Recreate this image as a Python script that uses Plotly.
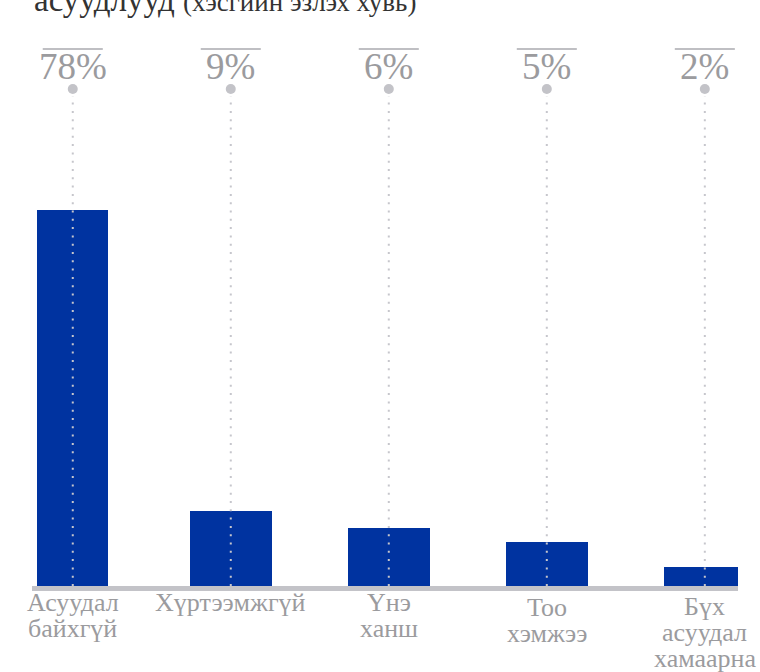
import plotly.graph_objects as go

# ---- data ----
categories = ["Асуудал\nбайхгүй", "Хүртээмжгүй", "Үнэ\nханш", "Тоо\nхэмжээ", "Бүх\nасуудал\nхамаарна"]
bar_values = [78, 15.5, 12.1, 9.2, 4.0]          # bar heights as drawn
share_labels = ["78%", "9%", "6%", "5%", "2%"]     # printed shares
title_main = "асуудлууд"
title_sub = "(хэсгийн эзлэх хувь)"

# ---- styles ----
BLUE = "#0033a0"
GRAY_TXT = "#9b9b9e"
GRAY_LINE = "#c3c3c8"
DOT = "#c6c6cc"
SERIF = "Liberation Serif"
bar_widths = [0.45, 0.52, 0.52, 0.52, 0.52]
label_drop = [0, 0, 0, 5, 4]   # extra downward nudge of category labels (px)

W, H = 760, 672
ML, MR, MT, MB = 32, 22, 40, 86
plot_h = H - MT - MB

def py(pix):  # pixel row -> paper y
    return (H - MB - pix) / plot_h

cat_keys = [c.replace("\n", " ") for c in categories]

fig = go.Figure()
fig.add_trace(go.Bar(
    x=cat_keys, y=bar_values, width=bar_widths,
    marker=dict(color=BLUE, line=dict(width=0)),
    hoverinfo="skip", showlegend=False,
))
# top markers (on a 0..1 overlay axis)
fig.add_trace(go.Scatter(
    x=cat_keys, y=[py(89)] * len(cat_keys), yaxis="y2", mode="markers",
    marker=dict(size=10, color="#c3c3c8"), cliponaxis=False,
    hoverinfo="skip", showlegend=False,
))

shapes = []
annotations = []
for i, (lab, cat) in enumerate(zip(share_labels, categories)):
    shapes.append(dict(type="line", xref="x", yref="paper", x0=i, x1=i,
                       y0=0.0, y1=py(96), layer="above",
                       line=dict(color=DOT, width=2, dash="2px,6.3px")))
    shapes.append(dict(type="line", xref="x", yref="paper", x0=i - 0.19, x1=i + 0.19,
                       y0=py(49), y1=py(49),
                       line=dict(color="#bfbfc3", width=2)))
    annotations.append(dict(text=lab, xref="x", yref="paper", x=i, y=py(66),
                            xanchor="center", yanchor="middle", showarrow=False,
                            font=dict(family=SERIF, size=37, color=GRAY_TXT)))
    for k, line in enumerate(cat.split("\n")):
        annotations.append(dict(text=line, xref="x", yref="paper", x=i, y=0,
                                xanchor="center", yanchor="top", showarrow=False,
                                yshift=0 - label_drop[i] - 26 * k,
                                font=dict(family=SERIF, size=26, color=GRAY_TXT)))

annotations.append(dict(
    text=f"{title_main} <span style='font-size:27px'>{title_sub}</span>",
    xref="paper", yref="paper", x=0.0, y=py(20), xanchor="left", yanchor="bottom",
    showarrow=False, font=dict(family=SERIF, size=33, color="#333333")))

ymax = bar_values[0] * plot_h / 375.8

fig.update_layout(
    width=W, height=H,
    margin=dict(l=ML, r=MR, t=MT, b=MB, pad=0),
    paper_bgcolor="white", plot_bgcolor="white",
    bargap=0,
    xaxis=dict(type="category", range=[-0.258, 4.21], showticklabels=False,
               showgrid=False, zeroline=False, showline=True,
               linecolor=GRAY_LINE, linewidth=5, ticks=""),
    yaxis=dict(range=[0, ymax], visible=False, showgrid=False, zeroline=False),
    yaxis2=dict(range=[0, 1], overlaying="y", visible=False),
    shapes=shapes, annotations=annotations,
)

fig.write_html("out.html", config={"displayModeBar": False},
               post_script="document.body.style.margin='0';document.body.style.overflow='hidden';")
